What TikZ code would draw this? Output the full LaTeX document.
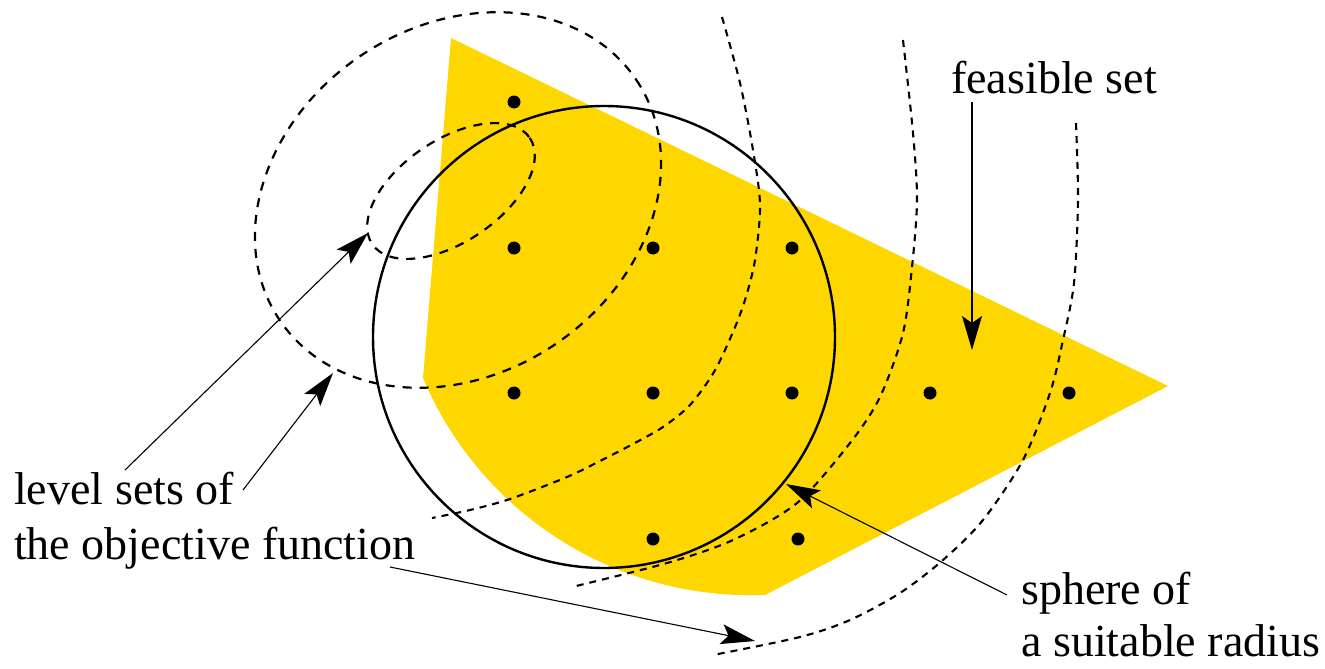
\documentclass[tikz,border=0pt]{standalone}
\usepackage{fontspec}
\setmainfont{Liberation Serif}
\usetikzlibrary{arrows.meta}
\definecolor{feasyellow}{RGB}{255,215,0}

\begin{document}
\begin{tikzpicture}[x=1pt,y=-1pt,
  lbl/.style={anchor=base west,inner sep=0pt,font=\fontsize{46}{54}\selectfont},
  levelset/.style={line width=2.2pt,dash pattern=on 9pt off 8pt},
  farset/.style={line width=2.1pt,dash pattern=on 7pt off 6pt},
  pointer/.style={line width=1.1pt,-{Stealth[length=34pt,width=20pt,inset=7pt]}}]
  \useasboundingbox (0,0) rectangle (1325,669);
  \fill[feasyellow] (451,38) -- (423,378)
    arc[start angle=157.1,end angle=87.6,radius=355.5] -- (1168,386) -- cycle;
  \draw[levelset,rotate around={34:(458,200)}] (458,200) ellipse[x radius=215,y radius=174];
  \draw[levelset,rotate around={34:(451,191)}] (451,191) ellipse[x radius=95,y radius=51];
  \draw[farset] plot[smooth] coordinates {(722,17) (740,83) (753,150) (760,205) (755,260)
    (745,300) (733,332) (714,372) (690,405) (663,427) (633,444) (600,461) (567,477)
    (510,499) (470,510) (432,518)};
  \draw[farset] plot[smooth] coordinates {(903,40) (913,133) (917,200) (912,267) (903,333)
    (880,397) (850,443) (797,503) (733,540) (667,563) (572,587)};
  \draw[farset] plot[smooth] coordinates {(1076,123) (1078,200) (1074,283) (1063,340)
    (1050,393) (1023,460) (983,520) (943,560) (900,593) (850,620) (800,637) (713,655)};
  \draw[line width=2.4pt] (604,337) circle[radius=231];
  \foreach \px/\py in {514/102,514/248,653/248,792/248,514/393,653/393,792/393,
    930/393,1069/393,653/539,798/539}
    \fill (\px,\py) circle[radius=6.5];
  \node[lbl] (Lvl1) at (14,504) {level sets of};
  \node[lbl] (Lvl2) at (14,559) {the objective function};
  \node[lbl] (Feas) at (951,93) {feasible set};
  \node[lbl] (Sph1) at (1021,604) {sphere of};
  \node[lbl] (Sph2) at (1021,656) {a suitable radius};
  \coordinate (L1) at (125,470);
  \coordinate (L1T) at (368,233);
  \coordinate (L2) at (243,490);
  \coordinate (L2T) at (333,373);
  \coordinate (L3) at (390,567);
  \coordinate (L3T) at (755,641);
  \coordinate (F) at (972,102);
  \coordinate (FT) at (972,350);
  \coordinate (S) at (1007,595);
  \coordinate (ST) at (786,484);
  \path[pointer] (L1) edge (L1T) (L2) edge (L2T) (L3) edge (L3T);
  \path[pointer] (F) edge (FT) (S) edge (ST);
\end{tikzpicture}
\end{document}
